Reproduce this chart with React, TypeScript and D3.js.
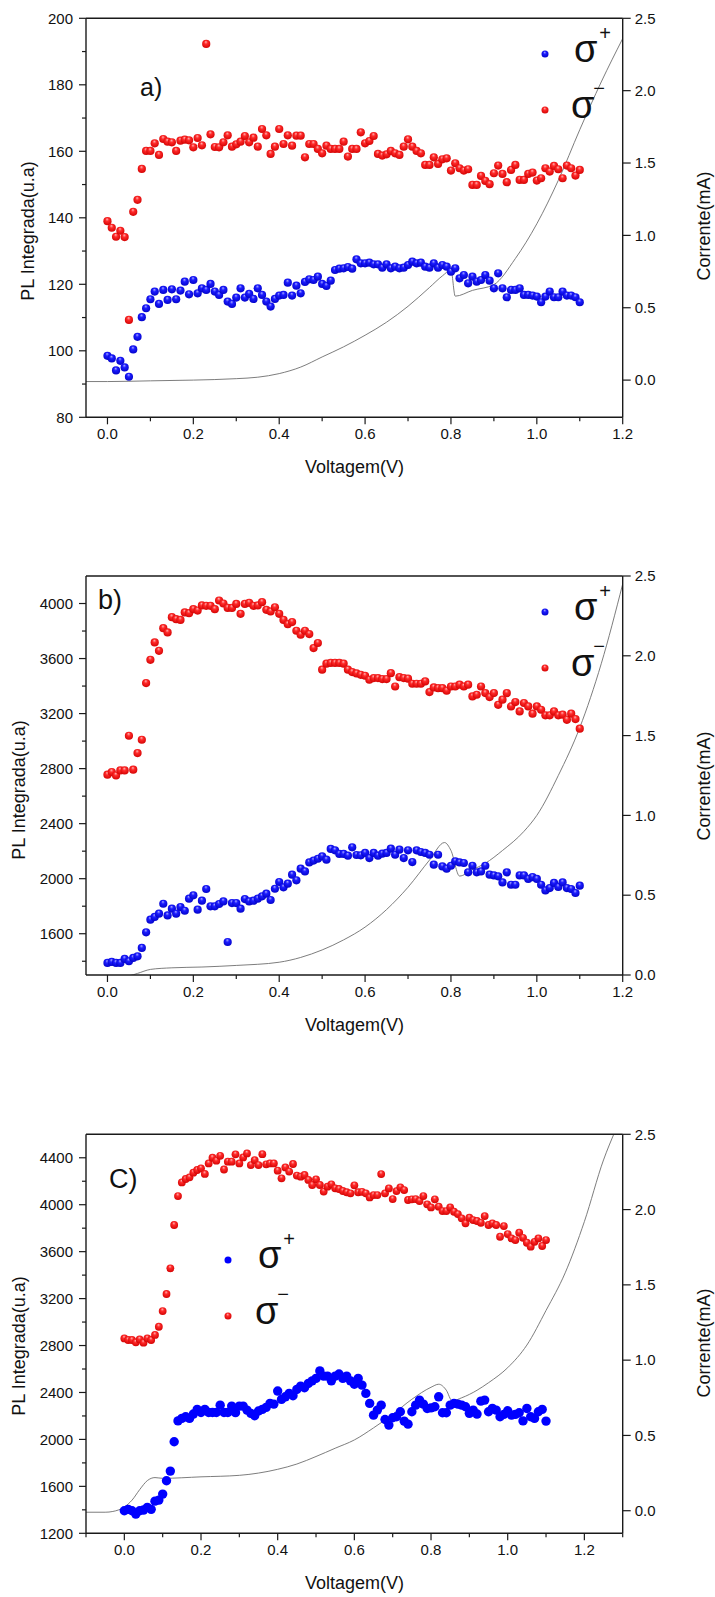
import React from 'react';
import * as d3 from 'd3';

// Bias voltage grid shared by every PL series (V)
const VOLTAGES = [
  0.00, 0.01, 0.02, 0.03, 0.04, 0.05, 0.06, 0.07, 0.08, 0.09,
  0.10, 0.11, 0.12, 0.13, 0.14, 0.15, 0.16, 0.17, 0.18, 0.19,
  0.20, 0.21, 0.22, 0.23, 0.24, 0.25, 0.26, 0.27, 0.28, 0.29,
  0.30, 0.31, 0.32, 0.33, 0.34, 0.35, 0.36, 0.37, 0.38, 0.39,
  0.40, 0.41, 0.42, 0.43, 0.44, 0.45, 0.46, 0.47, 0.48, 0.49,
  0.50, 0.51, 0.52, 0.53, 0.54, 0.55, 0.56, 0.57, 0.58, 0.59,
  0.60, 0.61, 0.62, 0.63, 0.64, 0.65, 0.66, 0.67, 0.68, 0.69,
  0.70, 0.71, 0.72, 0.73, 0.74, 0.75, 0.76, 0.77, 0.78, 0.79,
  0.80, 0.81, 0.82, 0.83, 0.84, 0.85, 0.86, 0.87, 0.88, 0.89,
  0.90, 0.91, 0.92, 0.93, 0.94, 0.95, 0.96, 0.97, 0.98, 0.99,
  1.00, 1.01, 1.02, 1.03, 1.04, 1.05, 1.06, 1.07, 1.08, 1.09,
  1.10,
];

// ---- Panel a) integrated PL (u.a) ----
const SIGMA_MINUS_A = [
  139.0, 137.0, 134.3, 136.1, 134.2, 109.3, 141.8, 145.4, 154.7, 160.1,
  160.1, 162.4, 158.9, 163.7, 162.9, 162.7, 160.1, 163.2, 163.5, 163.3,
  161.2, 164.0, 161.8, 192.3, 165.1, 161.3, 161.2, 162.7, 164.8, 161.4,
  162.1, 162.9, 164.6, 162.7, 164.1, 161.4, 166.7, 164.8, 159.2, 161.4,
  166.7, 162.2, 164.8, 161.7, 164.7, 164.7, 158.2, 162.2, 162.2, 160.7,
  159.4, 161.7, 160.7, 160.7, 160.7, 162.9, 158.4, 160.7, 160.7, 165.7,
  162.4, 163.1, 164.6, 159.2, 158.7, 159.1, 160.1, 159.4, 158.9, 161.4,
  163.6, 161.4, 160.1, 159.4, 155.9, 155.9, 158.2, 156.2, 157.6, 157.9,
  154.2, 156.4, 154.9, 154.2, 154.6, 149.9, 149.9, 152.6, 151.1, 150.1,
  153.4, 155.7, 153.2, 150.7, 154.4, 155.9, 151.4, 151.4, 153.2, 153.6,
  151.2, 151.9, 154.9, 153.9, 155.6, 154.6, 151.9, 155.7, 154.9, 152.7,
  154.4,
];
const SIGMA_PLUS_A = [
  98.5, 97.7, 94.1, 97.0, 95.0, 92.2, 100.4, 104.2, 110.1, 112.8,
  115.5, 117.8, 114.1, 118.3, 115.3, 118.5, 115.5, 118.1, 120.8, 117.0,
  121.3, 117.3, 118.8, 118.3, 120.1, 117.8, 116.8, 118.3, 114.8, 114.1,
  116.0, 118.8, 116.0, 117.1, 115.6, 118.8, 116.8, 114.8, 113.3, 115.6,
  116.6, 116.8, 120.5, 116.6, 119.6, 117.3, 120.7, 121.5, 121.3, 122.3,
  120.1, 119.5, 121.1, 124.3, 124.7, 124.8, 125.2, 124.7, 127.5, 126.3,
  126.3, 126.5, 126.0, 126.0, 125.0, 126.0, 124.8, 125.3, 124.8, 125.0,
  125.8, 126.8, 126.3, 126.5, 125.3, 125.0, 126.3, 125.0, 125.8, 125.3,
  123.8, 124.8, 121.8, 122.8, 120.3, 122.3, 120.8, 121.3, 122.8, 121.1,
  118.8, 123.3, 118.8, 116.1, 118.3, 118.3, 118.8, 116.8, 116.8, 116.6,
  116.3, 114.6, 116.3, 117.8, 116.1, 116.1, 117.8, 116.6, 116.6, 116.1,
  114.6,
];
const CURRENT_A_V = [-0.05, 0.0, 0.1, 0.2, 0.3, 0.35, 0.4, 0.45, 0.5, 0.55, 0.6, 0.65, 0.7, 0.75, 0.78, 0.80, 0.81, 0.85, 0.9, 0.95, 1.0, 1.05, 1.1, 1.15, 1.2];
const CURRENT_A_MA = [-0.01, -0.01, -0.005, 0.0, 0.01, 0.02, 0.045, 0.09, 0.16, 0.23, 0.31, 0.40, 0.51, 0.64, 0.72, 0.76, 0.58, 0.62, 0.66, 0.84, 1.08, 1.38, 1.73, 2.06, 2.36];

// ---- Panel b) ----
const SIGMA_MINUS_B = [
  2756, 2775, 2750, 2787, 2787, 3039, 2792, 2913, 3010, 3422,
  3591, 3717, 3656, 3821, 3790, 3901, 3886, 3881, 3935, 3930,
  3959, 3949, 3986, 3983, 3983, 3959, 4022, 4000, 3968, 3968,
  3997, 3925, 3997, 4005, 3983, 3986, 4010, 3954, 3942, 3973,
  3925, 3881, 3850, 3865, 3802, 3773, 3802, 3778, 3676, 3713,
  3519, 3563, 3568, 3568, 3568, 3563, 3519, 3502, 3492, 3482,
  3475, 3446, 3458, 3458, 3451, 3451, 3494, 3397, 3465, 3458,
  3454, 3417, 3417, 3417, 3434, 3356, 3390, 3385, 3385, 3366,
  3397, 3397, 3410, 3397, 3410, 3325, 3337, 3397, 3349, 3320,
  3349, 3264, 3301, 3349, 3252, 3284, 3216, 3277, 3252, 3199,
  3252, 3228, 3187, 3187, 3216, 3187, 3192, 3155, 3199, 3160,
  3090,
];
const SIGMA_PLUS_B = [
  1388, 1395, 1388, 1388, 1417, 1400, 1424, 1436, 1497, 1610,
  1702, 1722, 1746, 1818, 1733, 1782, 1746, 1794, 1767, 1855,
  1879, 1775, 1840, 1925, 1799, 1799, 1816, 1835, 1540, 1823,
  1823, 1782, 1852, 1835, 1840, 1855, 1872, 1891, 1845, 1927,
  1976, 1937, 1964, 2029, 1988, 2073, 2053, 2118, 2132, 2145,
  2162, 2138, 2216, 2206, 2180, 2180, 2167, 2228, 2172, 2170,
  2187, 2150, 2187, 2167, 2182, 2187, 2218, 2174, 2211, 2150,
  2206, 2121, 2206, 2194, 2187, 2174, 2102, 2174, 2089, 2073,
  2094, 2126, 2118, 2114, 2046, 2094, 2046, 2053, 2094, 2029,
  2024, 2017, 1973, 2046, 1956, 1956, 2024, 2024, 1998, 2012,
  1998, 1956, 1915, 1932, 1969, 1940, 1973, 1932, 1925, 1896,
  1949,
];
const CURRENT_B_V = [-0.05, 0.05, 0.07, 0.10, 0.15, 0.22, 0.3, 0.4, 0.45, 0.5, 0.55, 0.6, 0.65, 0.7, 0.75, 0.785, 0.80, 0.82, 0.85, 0.88, 0.92, 0.97, 1.0, 1.05, 1.1, 1.15, 1.2];
const CURRENT_B_MA = [-0.02, -0.005, 0.01, 0.035, 0.045, 0.05, 0.06, 0.08, 0.11, 0.157, 0.22, 0.30, 0.41, 0.55, 0.72, 0.83, 0.78, 0.62, 0.66, 0.70, 0.78, 0.90, 1.0, 1.25, 1.55, 1.95, 2.45];

// ---- Panel C) ----
const SIGMA_MINUS_C = [
  2861, 2847, 2847, 2827, 2852, 2824, 2861, 2847, 2890, 2960,
  3094, 3239, 3458, 3827, 4074, 4190, 4219, 4233, 4273, 4296,
  4310, 4262, 4352, 4400, 4375, 4417, 4300, 4367, 4367, 4429,
  4352, 4403, 4437, 4338, 4380, 4338, 4431, 4344, 4352, 4352,
  4290, 4225, 4318, 4282, 4347, 4248, 4239, 4253, 4211, 4168,
  4216, 4168, 4112, 4154, 4174, 4140, 4134, 4117, 4106, 4097,
  4165, 4106, 4110, 4097, 4062, 4082, 4082, 4261, 4097, 4139,
  4048, 4116, 4148, 4125, 4040, 4046, 4048, 4031, 4074, 4003,
  3977, 4046, 3983, 3946, 3946, 3977, 3940, 3920, 3884, 3841,
  3889, 3869, 3861, 3846, 3903, 3827, 3841, 3827, 3727, 3818,
  3750, 3713, 3699, 3761, 3718, 3676, 3642, 3684, 3713, 3648,
  3699,
];
const SIGMA_PLUS_C = [
  1392, 1404, 1392, 1364, 1392, 1398, 1421, 1404, 1474, 1483,
  1534, 1648, 1730, 1980, 2158, 2179, 2193, 2179, 2216, 2256,
  2230, 2256, 2230, 2230, 2230, 2292, 2230, 2230, 2284, 2228,
  2284, 2284, 2250, 2222, 2202, 2242, 2256, 2273, 2307, 2301,
  2412, 2341, 2363, 2392, 2372, 2426, 2454, 2440, 2477, 2499,
  2520, 2584, 2539, 2539, 2499, 2539, 2557, 2520, 2539, 2499,
  2470, 2520, 2463, 2392, 2307, 2207, 2250, 2292, 2170, 2122,
  2185, 2193, 2236, 2156, 2130, 2236, 2292, 2335, 2301, 2264,
  2269, 2278, 2363, 2227, 2227, 2292, 2307, 2301, 2292, 2278,
  2222, 2250, 2216, 2326, 2335, 2236, 2264, 2250, 2193, 2213,
  2244, 2207, 2213, 2227, 2158, 2264, 2193, 2179, 2236, 2256,
  2156,
];
const CURRENT_C_V = [-0.10, -0.05, -0.03, 0.0, 0.02, 0.04, 0.06, 0.08, 0.10, 0.2, 0.3, 0.35, 0.4, 0.45, 0.5, 0.55, 0.6, 0.65, 0.7, 0.75, 0.8, 0.82, 0.84, 0.855, 0.88, 0.92, 0.95, 1.0, 1.05, 1.1, 1.15, 1.2, 1.25, 1.28];
const CURRENT_C_MA = [-0.01, -0.01, -0.005, 0.025, 0.07, 0.14, 0.20, 0.22, 0.215, 0.225, 0.235, 0.25, 0.275, 0.31, 0.36, 0.415, 0.47, 0.55, 0.64, 0.74, 0.82, 0.84, 0.80, 0.73, 0.75, 0.80, 0.85, 0.95, 1.1, 1.33, 1.58, 1.92, 2.33, 2.52];

// Axis tick values
const X_TICKS = [0.0, 0.2, 0.4, 0.6, 0.8, 1.0, 1.2];
const X_MINOR_AB = [0.1, 0.3, 0.5, 0.7, 0.9, 1.1];
const X_MINOR_C = [-0.1, 0.1, 0.3, 0.5, 0.7, 0.9, 1.1, 1.3];
const Y_TICKS_A = [80, 100, 120, 140, 160, 180, 200];
const Y_MINOR_A = [90, 110, 130, 150, 170, 190];
const Y_TICKS_B = [1600, 2000, 2400, 2800, 3200, 3600, 4000];
const Y_MINOR_B = [1400, 1800, 2200, 2600, 3000, 3400, 3800];
const Y_TICKS_C = [1200, 1600, 2000, 2400, 2800, 3200, 3600, 4000, 4400];
const Y_MINOR_C = [1400, 1800, 2200, 2600, 3000, 3400, 3800, 4200];
const CURRENT_TICKS = [0.0, 0.5, 1.0, 1.5, 2.0, 2.5];

const FONT = "'Liberation Sans', Arial, Helvetica, sans-serif";
const LEFT = 86;
const RIGHT = 622.7;

type PanelSpec = {
  id: string;
  top: number;
  bottom: number;
  xDomain: [number, number];
  yDomain: [number, number];
  y2Domain: [number, number];
  xMinor: number[];
  yTicks: number[];
  yMinor: number[];
  plus: number[];
  minus: number[];
  curV: number[];
  curI: number[];
  tag: string;
  tagX: number;
  tagY: number;
  tagSize: number;
  yLabelX: number;
  yLabelY: number;
  y2LabelY: number;
  legX: number;
  legPlusY: number;
  legMinusY: number;
  sigX: number;
  flatPlus: boolean;
  plusR: number;
  minusR: number;
};

const fmt1 = d3.format('.1f');

function Panel({ s }: { s: PanelSpec }) {
  const x = d3.scaleLinear().domain(s.xDomain).range([LEFT, RIGHT]);
  const y = d3.scaleLinear().domain(s.yDomain).range([s.bottom, s.top]);
  const y2 = d3.scaleLinear().domain(s.y2Domain).range([s.bottom, s.top]);
  const line = d3
    .line<number>()
    .x((_, i) => x(s.curV[i]))
    .y((d) => y2(d))
    .curve(d3.curveMonotoneX);
  const clipId = `clip-${s.id}`;
  const axisColor = '#1a1a1a';
  const plusFill = s.flatPlus ? '#0000ff' : 'url(#ballBlue)';

  return (
    <g>
      <defs>
        <clipPath id={clipId}>
          <rect x={LEFT} y={s.top} width={RIGHT - LEFT} height={s.bottom - s.top} />
        </clipPath>
      </defs>

      {/* diode current, right axis */}
      <path
        d={line(s.curI) || ''}
        fill="none"
        stroke="#6e6e6e"
        strokeWidth={0.9}
        clipPath={`url(#${clipId})`}
      />

      {/* PL data */}
      {s.plus.map((v, i) => (
        <circle key={`p${i}`} cx={x(VOLTAGES[i])} cy={y(v)} r={s.plusR} fill={plusFill} />
      ))}
      {s.minus.map((v, i) => (
        <circle key={`m${i}`} cx={x(VOLTAGES[i])} cy={y(v)} r={s.minusR} fill="url(#ballRed)" />
      ))}

      {/* frame */}
      <line x1={LEFT} x2={RIGHT} y1={s.top} y2={s.top} stroke={axisColor} strokeWidth={1.4} />
      <line x1={LEFT} x2={RIGHT} y1={s.bottom} y2={s.bottom} stroke={axisColor} strokeWidth={1.4} />
      <line x1={LEFT} x2={LEFT} y1={s.top} y2={s.bottom} stroke={axisColor} strokeWidth={1.4} />
      <line x1={RIGHT} x2={RIGHT} y1={s.top} y2={s.bottom} stroke={axisColor} strokeWidth={1.4} />

      {/* bottom axis */}
      {X_TICKS.map((t) => (
        <g key={`xt${t}`}>
          <line x1={x(t)} x2={x(t)} y1={s.bottom} y2={s.bottom + 7} stroke={axisColor} strokeWidth={1.2} />
          <text x={x(t)} y={s.bottom + 21.5} fontSize={15} textAnchor="middle" fontFamily={FONT} fill="#111">
            {fmt1(t)}
          </text>
        </g>
      ))}
      {s.xMinor.map((t) => (
        <line key={`xm${t}`} x1={x(t)} x2={x(t)} y1={s.bottom} y2={s.bottom + 4} stroke={axisColor} strokeWidth={1.2} />
      ))}

      {/* left axis */}
      {s.yTicks.map((t) => (
        <g key={`yt${t}`}>
          <line x1={LEFT - 7} x2={LEFT} y1={y(t)} y2={y(t)} stroke={axisColor} strokeWidth={1.2} />
          <text x={LEFT - 13} y={y(t) + 5.2} fontSize={15} textAnchor="end" fontFamily={FONT} fill="#111">
            {t}
          </text>
        </g>
      ))}
      {s.yMinor.map((t) => (
        <line key={`ym${t}`} x1={LEFT - 4} x2={LEFT} y1={y(t)} y2={y(t)} stroke={axisColor} strokeWidth={1.2} />
      ))}

      {/* right axis */}
      {CURRENT_TICKS.map((t) => (
        <g key={`y2t${t}`}>
          <line x1={RIGHT} x2={RIGHT + 8} y1={y2(t)} y2={y2(t)} stroke={axisColor} strokeWidth={1.2} />
          <text x={RIGHT + 12} y={y2(t) + 5.2} fontSize={15} textAnchor="start" fontFamily={FONT} fill="#111">
            {fmt1(t)}
          </text>
        </g>
      ))}

      {/* axis titles */}
      <text x={354.5} y={s.bottom + 56} fontSize={18} textAnchor="middle" fontFamily={FONT} fill="#111">
        Voltagem(V)
      </text>
      <text
        transform={`translate(${s.yLabelX},${s.yLabelY}) rotate(-90)`}
        fontSize={18}
        textAnchor="middle"
        dominantBaseline="central"
        fontFamily={FONT}
        fill="#111"
      >
        PL Integrada(u.a)
      </text>
      <text
        transform={`translate(704,${s.y2LabelY}) rotate(-90)`}
        fontSize={18}
        textAnchor="middle"
        dominantBaseline="central"
        fontFamily={FONT}
        fill="#111"
      >
        Corrente(mA)
      </text>

      {/* panel tag */}
      <text x={s.tagX} y={s.tagY} fontSize={s.tagSize} fontFamily={FONT} fill="#111">
        {s.tag}
      </text>

      {/* legend */}
      <circle cx={s.legX} cy={s.legPlusY} r={3.5} fill={s.flatPlus ? '#0000ff' : 'url(#ballBlue)'} />
      <text x={s.sigX + 2} y={s.legPlusY + 7.5} fontSize={38} fontFamily={FONT} fill="#111">
        σ
      </text>
      <text x={s.sigX + 33} y={s.legPlusY - 14} fontSize={20} textAnchor="middle" fontFamily={FONT} fill="#111">
        +
      </text>
      <circle cx={s.legX} cy={s.legMinusY} r={3.5} fill="url(#ballRed)" />
      <text x={s.sigX - 1} y={s.legMinusY + 7.5} fontSize={38} fontFamily={FONT} fill="#111">
        σ
      </text>
      <text x={s.sigX + 27} y={s.legMinusY - 15} fontSize={20} textAnchor="middle" fontFamily={FONT} fill="#111">
        −
      </text>
    </g>
  );
}

const PANELS: PanelSpec[] = [
  {
    id: 'a',
    top: 18.3,
    bottom: 417.3,
    xDomain: [-0.05, 1.2],
    yDomain: [80, 200],
    y2Domain: [-0.257, 2.5],
    xMinor: X_MINOR_AB,
    yTicks: Y_TICKS_A,
    yMinor: Y_MINOR_A,
    plus: SIGMA_PLUS_A,
    minus: SIGMA_MINUS_A,
    curV: CURRENT_A_V,
    curI: CURRENT_A_MA,
    tag: 'a)',
    tagX: 140,
    tagY: 96,
    tagSize: 25,
    yLabelX: 28,
    yLabelY: 231,
    y2LabelY: 226,
    legX: 545,
    legPlusY: 54,
    legMinusY: 110,
    sigX: 572,
    flatPlus: false,
    plusR: 4.1,
    minusR: 4.1,
  },
  {
    id: 'b',
    top: 576,
    bottom: 975,
    xDomain: [-0.05, 1.2],
    yDomain: [1300, 4200],
    y2Domain: [0, 2.5],
    xMinor: X_MINOR_AB,
    yTicks: Y_TICKS_B,
    yMinor: Y_MINOR_B,
    plus: SIGMA_PLUS_B,
    minus: SIGMA_MINUS_B,
    curV: CURRENT_B_V,
    curI: CURRENT_B_MA,
    tag: 'b)',
    tagX: 98,
    tagY: 609,
    tagSize: 27,
    yLabelX: 19,
    yLabelY: 790,
    y2LabelY: 786,
    legX: 545,
    legPlusY: 612,
    legMinusY: 668,
    sigX: 572,
    flatPlus: false,
    plusR: 4.1,
    minusR: 4.1,
  },
  {
    id: 'c',
    top: 1134.3,
    bottom: 1533.3,
    xDomain: [-0.1, 1.3],
    yDomain: [1200, 4600],
    y2Domain: [-0.15, 2.5],
    xMinor: X_MINOR_C,
    yTicks: Y_TICKS_C,
    yMinor: Y_MINOR_C,
    plus: SIGMA_PLUS_C,
    minus: SIGMA_MINUS_C,
    curV: CURRENT_C_V,
    curI: CURRENT_C_MA,
    tag: 'C)',
    tagX: 109,
    tagY: 1188,
    tagSize: 27,
    yLabelX: 19,
    yLabelY: 1346,
    y2LabelY: 1343,
    legX: 228,
    legPlusY: 1260,
    legMinusY: 1316,
    sigX: 256,
    flatPlus: true,
    plusR: 4.7,
    minusR: 3.9,
  },
];

export default function App() {
  return (
    <svg
      width={715}
      height={1597}
      viewBox="0 0 715 1597"
      style={{ position: 'absolute', left: 0, top: 0, display: 'block', background: '#fff' }}
    >
      <defs>
        <radialGradient id="ballRed" cx="0.5" cy="0.45" r="0.6" fx="0.45" fy="0.25">
          <stop offset="0%" stopColor="#ffb4b4" />
          <stop offset="35%" stopColor="#ff2a2a" />
          <stop offset="100%" stopColor="#d00000" />
        </radialGradient>
        <radialGradient id="ballBlue" cx="0.5" cy="0.45" r="0.6" fx="0.45" fy="0.25">
          <stop offset="0%" stopColor="#a8a8ff" />
          <stop offset="35%" stopColor="#1c1cff" />
          <stop offset="100%" stopColor="#0000c4" />
        </radialGradient>
      </defs>
      <rect x={0} y={0} width={715} height={1597} fill="#fff" />
      {PANELS.map((p) => (
        <Panel key={p.id} s={p} />
      ))}
    </svg>
  );
}
